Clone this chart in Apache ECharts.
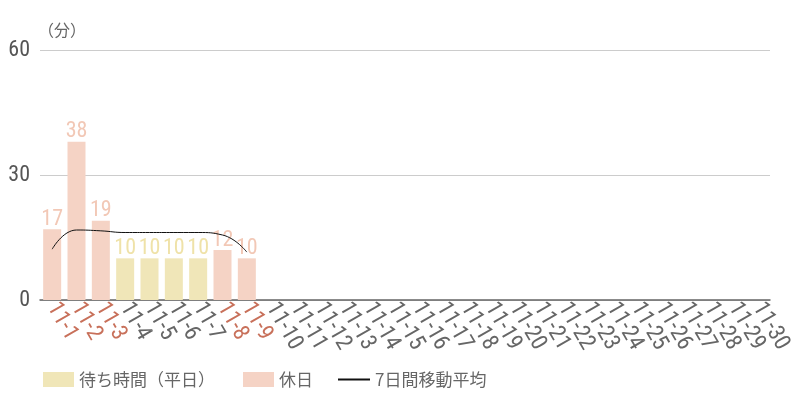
<!DOCTYPE html>
<html><head><meta charset="utf-8">
<script src="https://cdn.jsdelivr.net/npm/echarts@6/dist/echarts.min.js"></script>
<style>html,body{margin:0;padding:0;background:#fff}#c{width:800px;height:400px}</style>
</head><body><div id="c"></div>
<script>
const categories = [];
for (let d = 1; d <= 30; d++) categories.push('11-' + d);
const holidayDays = ['11-1','11-2','11-3','11-8','11-9'];
const waitValues = [17,38,19,10,10,10,10,12,10];
const movingAvg = [12.2,16.8,16.6,16.2,16.2,16.2,16.2,15.6,11.5];
const yTicks = [0,30,60];

const numFont = '"Roboto Condensed", Roboto, sans-serif';
const numWeight = 'condensed';
const jpFont = '"Noto Sans CJK JP", sans-serif';
const weekdayColor = '#f0e6b8';
const holidayColor = '#f5d3c5';
const weekdayData = categories.map((c,i) => (i < waitValues.length && holidayDays.indexOf(c) < 0) ? waitValues[i] : '-');
const holidayData = categories.map((c,i) => (i < waitValues.length && holidayDays.indexOf(c) >= 0) ? waitValues[i] : '-');

const chart = echarts.init(document.getElementById('c'));
chart.setOption({
  animation: false,
  textStyle: {fontFamily: numFont},
  graphic: [{type:'text', left: 38, top: 22, style:{text:'（分）', fill:'#666', font:'16px ' + jpFont}}],
  grid: {left: 40, right: 30, top: 50, bottom: 100},
  legend: [{
    bottom: 7, left: 38, itemWidth: 31, itemHeight: 15, itemGap: 28,
    textStyle: {color:'#666', fontSize: 17, fontFamily: jpFont},
    data: [
      {name:'待ち時間（平日）', icon:'rect'},
      {name:'休日', icon:'rect'}
    ]
  },{
    bottom: 7, left: 333, itemWidth: 32, itemHeight: 2, itemGap: 30,
    textStyle: {color:'#666', fontSize: 17, fontFamily: jpFont},
    data: [{name:'7日間移動平均', icon:'rect'}]
  }],
  xAxis: {
    type: 'category', data: categories,
    axisLine: {lineStyle:{color:'#666', width:1.5}},
    axisTick: {show:false},
    axisLabel: {
      interval: 0, rotate: -60, margin: 4, fontSize: 23, fontFamily: numFont, fontWeight: numWeight,
      color: (v) => holidayDays.indexOf(v) >= 0 ? '#c8705a' : '#666'
    }
  },
  yAxis: {
    type: 'value', min: 0, max: 60, interval: 30,
    axisLine: {show:false}, axisTick: {show:false},
    axisLabel: {color:'#555', fontSize: 22, margin: 10, fontFamily: numFont, fontWeight: numWeight,
      formatter: v => yTicks.indexOf(v) >= 0 ? String(v) : ''},
    splitLine: {lineStyle:{color:'#ccc'}}
  },
  series: [
    {name:'待ち時間（平日）', type:'bar', stack:'a', data: weekdayData, barWidth:'74%',
     itemStyle:{color: weekdayColor},
     label:{show:true, position:'top', color:'#efe2a8', fontSize:22, distance:-1, fontFamily: numFont, fontWeight: numWeight}},
    {name:'休日', type:'bar', stack:'a', data: holidayData, barWidth:'74%',
     itemStyle:{color: holidayColor},
     label:{show:true, position:'top', color:'#f2c8b6', fontSize:22, distance:-1, fontFamily: numFont, fontWeight: numWeight}},
    {name:'7日間移動平均', type:'line', data: movingAvg, smooth: 0.5, symbol:'none', z: 5,
     lineStyle:{color:'#111', width:1}, itemStyle:{color:'#111'}}
  ]
});
</script></body></html>
